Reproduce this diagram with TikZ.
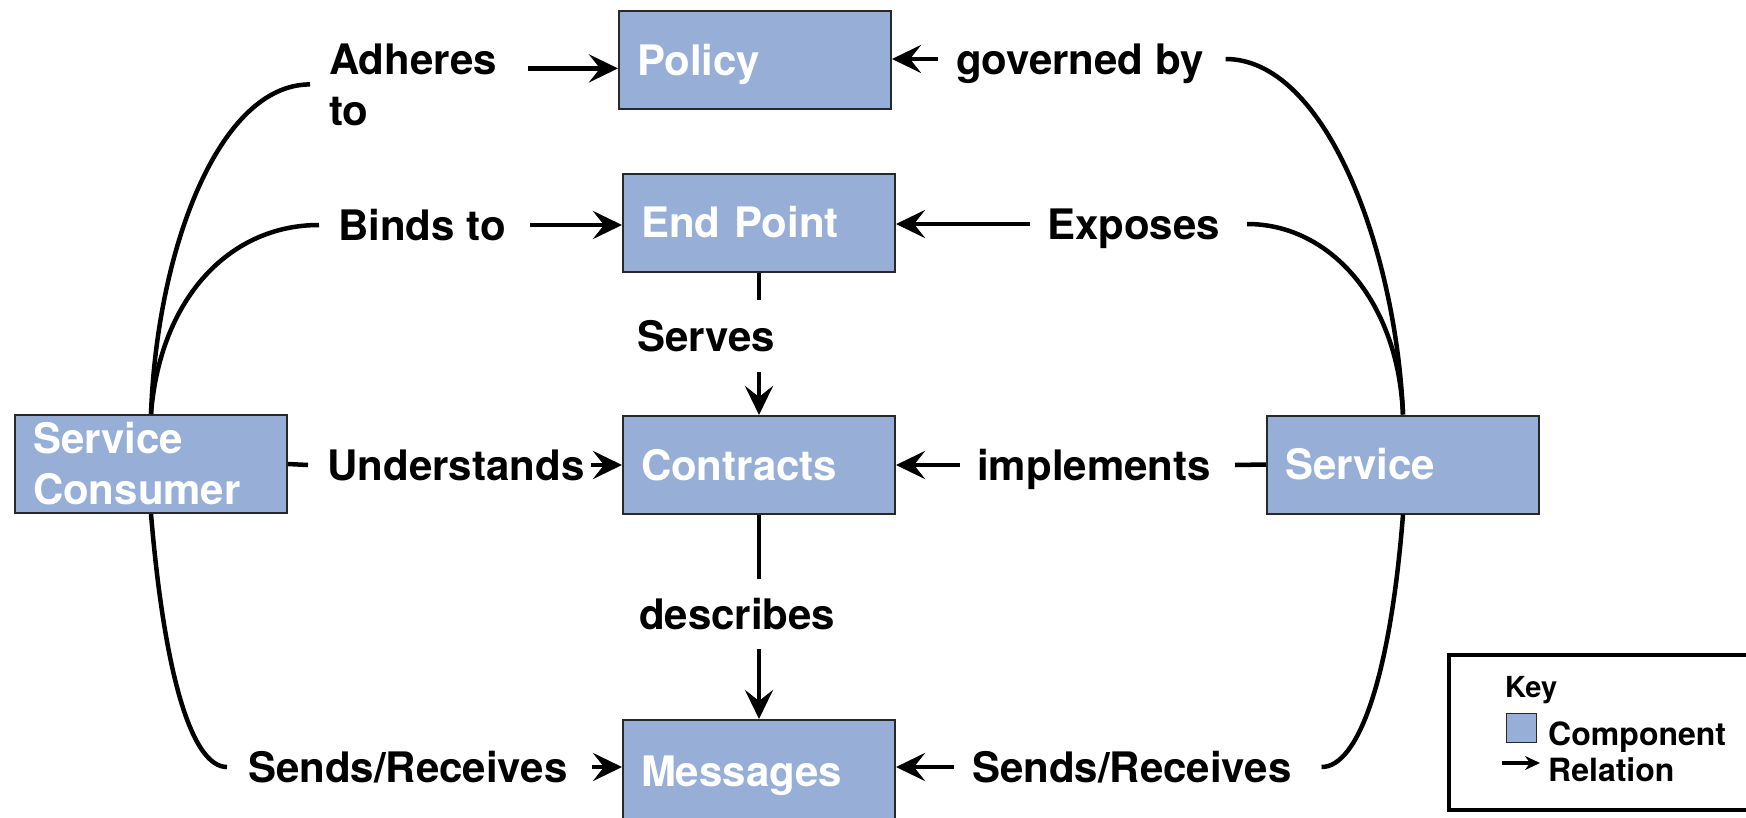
\documentclass[tikz,border=0pt]{standalone}
\usepackage{fontspec}
\setmainfont{TeX Gyre Heros}
\usetikzlibrary{arrows.meta}
\definecolor{boxblue}{RGB}{151,174,215}
\definecolor{boxedge}{RGB}{40,40,40}

\begin{document}
\begin{tikzpicture}[x=1pt,y=-1pt,
  comp/.style={draw=boxedge, line width=2pt, fill=boxblue, text=white,
    font=\fontsize{42}{51}\selectfont\bfseries, text width=236pt, align=left,
    inner xsep=18pt, inner ysep=0pt, minimum height=98pt},
  lbl/.style={font=\fontsize{42}{51}\selectfont\bfseries, inner sep=0pt},
  one/.style={lbl, text height=30pt, text depth=0pt, anchor=base west},
  link/.style={line width=4.5pt, line cap=butt},
  rel/.style={link, -{Stealth[length=29pt,width=28pt,inset=11pt]}},
  keyfont/.style={anchor=base west, inner sep=0pt, font=\fontsize{#1}{#1}\selectfont\bfseries},
]
\useasboundingbox (0,0) rectangle (1746,817);
\fill[white] (0,0) rectangle (1746,817);

% components
\node[comp, text depth=0pt] (policy) at (755,60) {Policy};
\node[comp] (endpoint) at (759,222.5) {End Point};
\node[comp] (contracts) at (759,465) {Contracts};
\node[comp, text depth=0pt, minimum height=102pt] (messages) at (759,771) {Messages};
\node[comp] (consumer) at (151,464) {Service\\Consumer};
\node[comp] (service) at (1403,464.5) {Service};

% relation labels
\node[lbl, align=left, anchor=west] (adh) at (329,84.4) {Adheres\\to};
\node[one] (binds) at (338,240) {Binds to};
\node[one] (under) at (327,480) {Understands};
\node[one] (sendsl) at (248,782) {Sends/Receives};
\node[one] (gov) at (956,74) {governed by};
\node[one] (exposes) at (1047,239) {Exposes};
\node[one] (impl) at (977,480) {implements};
\node[one] (sendsr) at (972,782) {Sends/Receives};
\node[one] (serves) at (637,351) {Serves};
\node[one] (describes) at (639,629) {describes};

% consumer side
\draw[link] (consumer.north) .. controls +(6,-165) and +(-91,0) .. ([xshift=-19pt]adh.west);
\draw[rel] ([shift={(31,-16)}]adh.east) coordinate (a1) -- (a1 -| policy.west);
\draw[link] (consumer.north) .. controls +(9,-115) and +(-90,0) .. ([xshift=-19pt]binds.west);
\draw[rel] ([xshift=24pt]binds.east) coordinate (b1) -- (b1 -| endpoint.west);
\draw[link] (consumer.east) -- ([xshift=-19pt]under.west);
\draw[rel] ([xshift=6pt]under.east) coordinate (u1) -- (u1 -| contracts.west);
\draw[link] (consumer.south) .. controls +(14,167) and +(-34,0) .. ([xshift=-21pt]sendsl.west);
\draw[rel] ([xshift=24pt]sendsl.east) coordinate (s1) -- (s1 -| messages.west);

% service side
\draw[rel] ([xshift=-18pt]gov.west) coordinate (g1) -- (g1 -| policy.east);
\draw[link] ([xshift=22pt]gov.east) .. controls +(100,0) and +(-7,-165) .. (service.north);
\draw[rel] ([xshift=-17pt]exposes.west) coordinate (e1) -- (e1 -| endpoint.east);
\draw[link] ([xshift=27pt]exposes.east) .. controls +(82,0) and +(-5,-115) .. (service.north);
\draw[rel] ([xshift=-17pt]impl.west) coordinate (i1) -- (i1 -| contracts.east);
\draw[link] ([xshift=24pt]impl.east) -- (service.west);
\draw[rel] ([xshift=-18pt]sendsr.west) coordinate (r1) -- (r1 -| messages.east);
\draw[link] ([xshift=30pt]sendsr.east) .. controls +(36,0) and +(-13,166) .. (service.south);

% central column
\draw[link, shorten >=21pt] (endpoint.south) -- (serves.north -| endpoint.south);
\draw[rel, shorten <=21pt] (serves.south -| contracts.north) -- (contracts.north);
\draw[link, shorten >=20pt] (contracts.south) -- (describes.north -| contracts.south);
\draw[rel, shorten <=20pt] (describes.south -| messages.north) -- (messages.north);

% key
\node[draw=black, line width=4pt, anchor=north west, minimum width=315pt,
  minimum height=155pt, inner sep=0pt] (keybox) at (1447,653) {};
\node[keyfont=29] (keyt) at (1505,697) {Key};
\node[draw=boxedge, line width=1.5pt, fill=boxblue, minimum width=30pt,
  minimum height=29pt, inner sep=0pt] (keysq) at (1521.5,728) {};
\node[keyfont=32] (keycomp) at (1548,745) {Component};
\coordinate (ka) at (1502,763);
\coordinate (kb) at (1540,763);
\draw[line width=3.5pt, -{Stealth[length=15pt,width=14pt,inset=5pt]}] (ka) -- (kb);
\node[keyfont=32] (keyrel) at (1548,781) {Relation};
\end{tikzpicture}
\end{document}
